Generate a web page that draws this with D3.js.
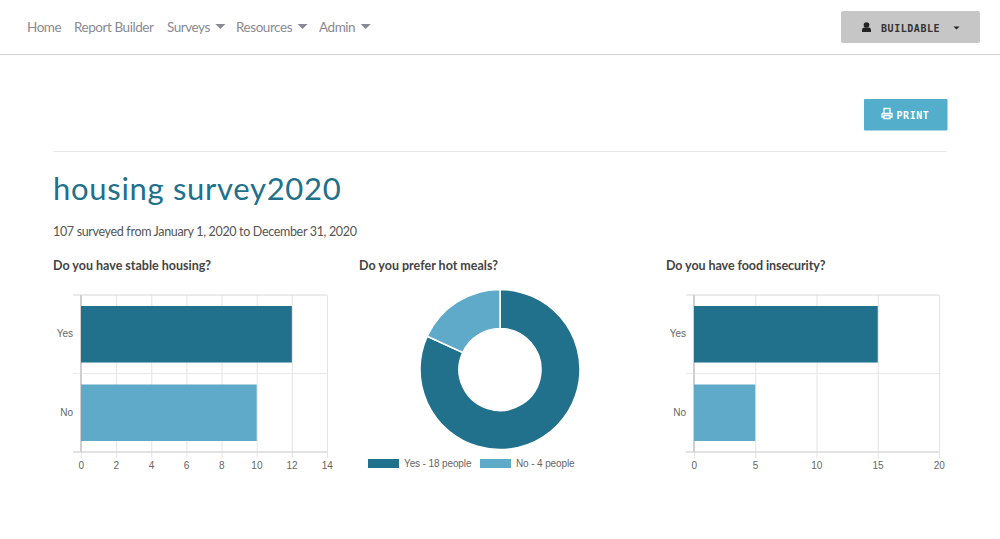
<!DOCTYPE html>
<html>
<head>
<meta charset="utf-8">
<script src="https://cdn.jsdelivr.net/npm/d3@7"></script>
<style>
html, body { margin: 0; padding: 0; background: #fff; overflow: hidden; }
svg { display: block; }
.nav { font-family: "Lato", sans-serif; font-size: 13.5px; letter-spacing: -0.45px; fill: #8a8a94; }
.mono { font-family: "DejaVu Sans Mono", monospace; font-weight: bold; }
.question { font-family: "Lato", sans-serif; font-size: 12.5px; font-weight: bold; fill: #444; }
.axis text, .legend text { font-family: "Liberation Sans", Arial, sans-serif; font-size: 10px; fill: #666; }
.legend text { letter-spacing: -0.12px; }
</style>
</head>
<body>
<svg width="1000" height="539"></svg>
<script>
var navItems = ["Home", "Report Builder", "Surveys", "Resources", "Admin"];
var navX = [27, 74, 167, 236, 319];
var navCaret = [false, false, true, true, true];

var categories = ["Yes", "No"];
var housingValues = [12, 10];
var mealValues = [18, 4];
var foodValues = [15, 5];
var housingTicks = [0, 2, 4, 6, 8, 10, 12, 14];
var foodTicks = [0, 5, 10, 15, 20];
var colors = ["#21708c", "#5eaac8"];

var svg = d3.select("svg");

// top bar
navItems.forEach(function(d, i) {
  var t = svg.append("text").attr("class", "nav").attr("x", navX[i]).attr("y", 32).text(d);
  if (navCaret[i]) {
    var x = navX[i] + t.node().getComputedTextLength() + 5.5;
    svg.append("path").attr("d", "M" + x + " 24h10l-5 5z").attr("fill", "#8a8a94");
  }
});
svg.append("line").attr("x1", 0).attr("x2", 1000).attr("y1", 54.5).attr("y2", 54.5).attr("stroke", "#d0d0d0");

// account button
svg.append("rect").attr("x", 841).attr("y", 11).attr("width", 139).attr("height", 32).attr("rx", 2).attr("fill", "#c6c6c6");
svg.append("circle").attr("cx", 866.5).attr("cy", 25).attr("r", 2.8).attr("fill", "#222");
svg.append("path").attr("d", "M862 32v-2q0-2.500 2-2.500h5q2 0 2 2.500v2z").attr("fill", "#222");
svg.append("text").attr("class", "mono").attr("x", 881).attr("y", 31.500).attr("font-size", 10)
  .attr("letter-spacing", 0.55).attr("fill", "#333").text("BUILDABLE");
svg.append("path").attr("d", "M953.500 26.500h6l-3 3z").attr("fill", "#222");

// print button
svg.append("rect").attr("x", 864).attr("y", 99).attr("width", 83.500).attr("height", 31.500).attr("rx", 1).attr("fill", "#52aeca");
svg.append("path").attr("d", "M884 113v-4.500h6v4.500M882 113.500h10v3.500h-1.500M883.500 117h-1.500v-3.500M884 115.500h6v3h-6z")
  .attr("fill", "none").attr("stroke", "#fff").attr("stroke-width", 1.3);
svg.append("text").attr("class", "mono").attr("x", 896.500).attr("y", 118.500).attr("font-size", 10)
  .attr("letter-spacing", 0.55).attr("fill", "#fff").text("PRINT");
svg.append("line").attr("x1", 53).attr("x2", 947).attr("y1", 151.500).attr("y2", 151.500).attr("stroke", "#e8e8e8");

// heading
svg.append("text").attr("x", 53).attr("y", 200).attr("font-family", "Lato, sans-serif")
  .attr("font-size", 31).attr("letter-spacing", 0.7).attr("fill", "#21708c").text("housing survey2020");
svg.append("text").attr("x", 53).attr("y", 236).attr("font-family", "Lato, sans-serif")
  .attr("font-size", 12.500).attr("letter-spacing", -0.33).attr("fill", "#555").text("107 surveyed from January 1, 2020 to December 31, 2020");

svg.append("text").attr("class", "question").attr("x", 53).attr("y", 270).text("Do you have stable housing?");
svg.append("text").attr("class", "question").attr("x", 359).attr("y", 270).text("Do you prefer hot meals?");
svg.append("text").attr("class", "question").attr("x", 666).attr("y", 270).attr("letter-spacing", -0.07).text("Do you have food insecurity?");

function barChart(values, ticks, left, right) {
  var top = 295, bottom = 452;
  var x = d3.scaleLinear().domain([ticks[0], ticks[ticks.length - 1]]).range([left, right]);
  var y = d3.scaleBand().domain(categories).range([top, bottom]).paddingInner(0.28).paddingOuter(0.14);
  var g = svg.append("g");
  var step = (bottom - top) / categories.length;

  // vertical grid and value labels
  var xAxis = g.append("g").attr("class", "axis").attr("transform", "translate(0," + bottom + ")")
    .call(d3.axisBottom(x).tickValues(ticks).tickFormat(d3.format("d")).tickSize(5).tickSizeOuter(0));
  xAxis.select(".domain").remove();
  xAxis.selectAll(".tick line").attr("y1", top - bottom).attr("y2", 6).attr("stroke", "#e4e4e4");
  xAxis.selectAll(".tick text").attr("y", 9.5).attr("dy", "0.71em").attr("dx", -0.3);

  // horizontal grid lines sit between the categories
  g.selectAll(".hgrid").data(d3.range(categories.length + 1)).enter().append("line")
    .attr("x1", left - 8).attr("x2", right)
    .attr("y1", function(d) { return top + d * step; })
    .attr("y2", function(d) { return top + d * step; })
    .attr("stroke", function(d) { return d === categories.length ? "#d8d8d8" : (d === 0 ? "#d8d8d8" : "#e8e8e8"); })
    .attr("stroke-width", function(d) { return d === categories.length ? 1.5 : 1; });

  var yAxis = g.append("g").attr("class", "axis").attr("transform", "translate(" + left + ",0)")
    .call(d3.axisLeft(y).tickSize(0).tickPadding(8));
  yAxis.select(".domain").remove();

  // zero line
  g.append("line").attr("x1", x(0)).attr("x2", x(0)).attr("y1", top).attr("y2", bottom)
    .attr("stroke", "#cfcfcf").attr("stroke-width", 2);

  g.selectAll(".bar").data(values).enter().append("rect")
    .attr("x", x(0))
    .attr("y", function(d, i) { return y(categories[i]); })
    .attr("width", function(d) { return x(d) - x(0); })
    .attr("height", y.bandwidth())
    .attr("fill", function(d, i) { return colors[i]; });
}

barChart(housingValues, housingTicks, 81, 327);
barChart(foodValues, foodTicks, 694, 939);

// donut
var pie = d3.pie().sort(null);
var arc = d3.arc().innerRadius(41).outerRadius(80);
var donut = svg.append("g").attr("transform", "translate(500,369.5)");
donut.selectAll("path").data(pie(mealValues)).enter().append("path")
  .attr("d", arc)
  .attr("fill", function(d, i) { return colors[i]; })
  .attr("stroke", "#fff").attr("stroke-width", 1.5);

var legendX = [368, 480];
var legend = svg.append("g").attr("class", "legend").selectAll("g").data(mealValues).enter().append("g")
  .attr("transform", function(d, i) { return "translate(" + legendX[i] + ",459)"; });
legend.append("rect").attr("width", 31).attr("height", 9)
  .attr("fill", function(d, i) { return colors[i]; });
legend.append("text").attr("x", 36).attr("y", 7.5)
  .text(function(d, i) { return categories[i] + " - " + d + " people"; });
</script>
</body>
</html>
